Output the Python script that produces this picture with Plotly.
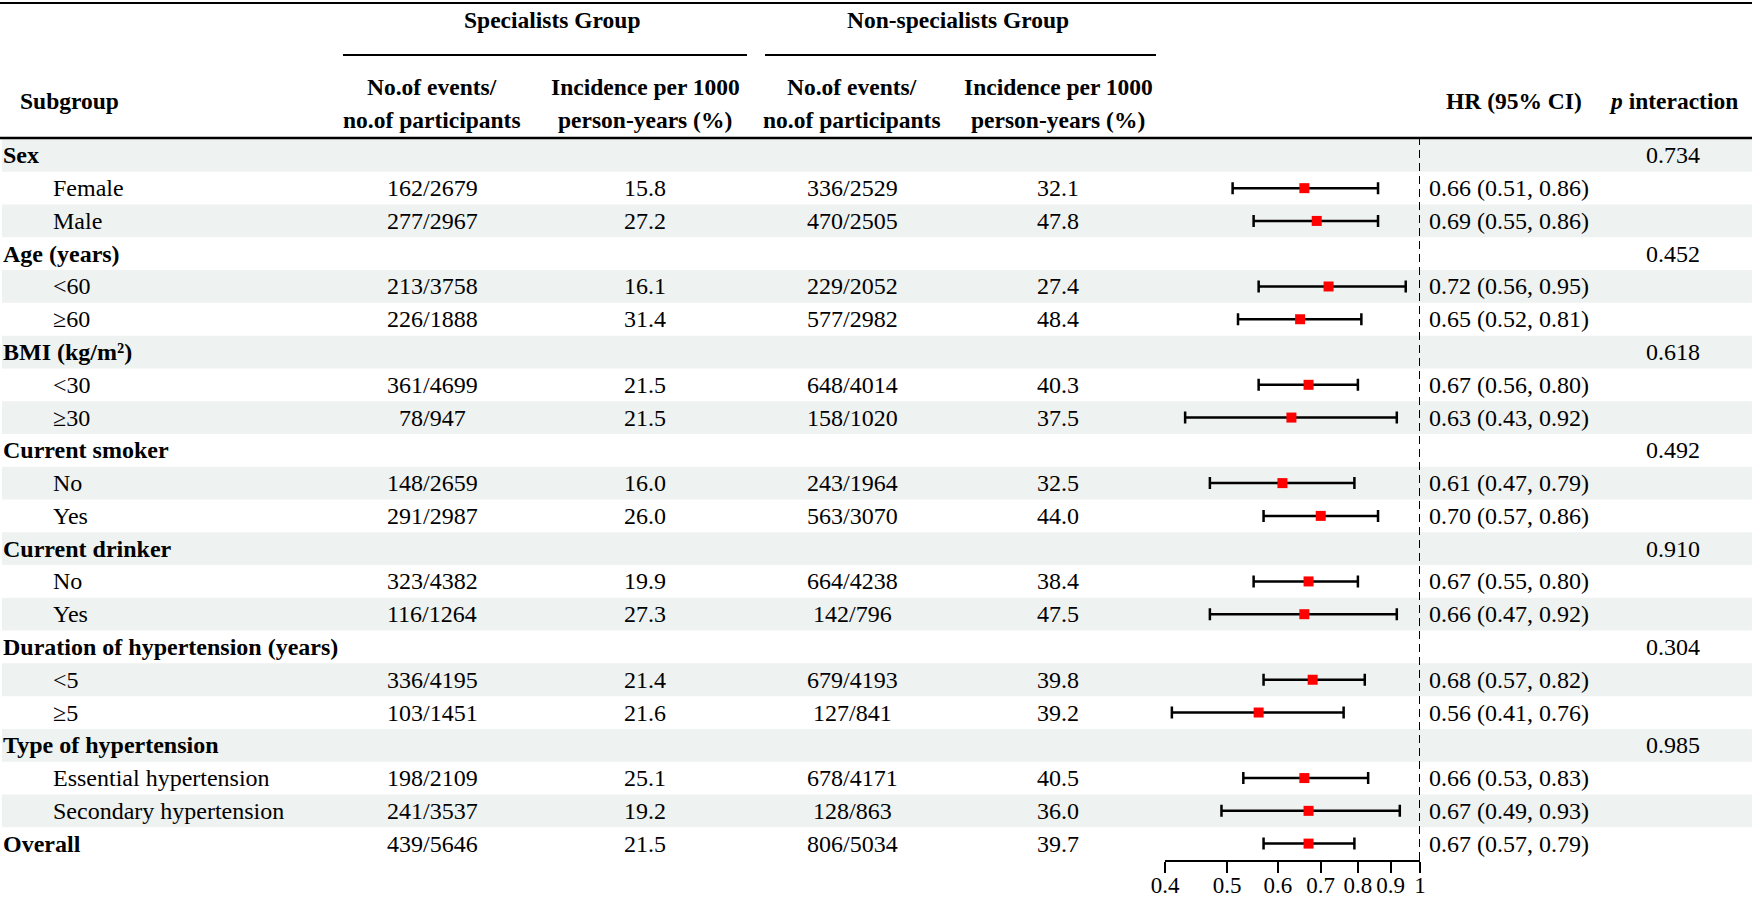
import math
import plotly.graph_objects as go

# ---------------- data ----------------
labels = ["Sex", "Female", "Male",
          "Age (years)", "<60", "≥60",
          "BMI (kg/m²)", "<30", "≥30",
          "Current smoker", "No", "Yes",
          "Current drinker", "No", "Yes",
          "Duration of hypertension (years)", "<5", "≥5",
          "Type of hypertension", "Essential hypertension", "Secondary hypertension",
          "Overall"]
is_group = [True, False, False, True, False, False, True, False, False,
            True, False, False, True, False, False, True, False, False,
            True, False, False, True]
spec_events = ["", "162/2679", "277/2967", "", "213/3758", "226/1888", "", "361/4699", "78/947",
               "", "148/2659", "291/2987", "", "323/4382", "116/1264", "", "336/4195", "103/1451",
               "", "198/2109", "241/3537", "439/5646"]
spec_inc = ["", "15.8", "27.2", "", "16.1", "31.4", "", "21.5", "21.5",
            "", "16.0", "26.0", "", "19.9", "27.3", "", "21.4", "21.6",
            "", "25.1", "19.2", "21.5"]
non_events = ["", "336/2529", "470/2505", "", "229/2052", "577/2982", "", "648/4014", "158/1020",
              "", "243/1964", "563/3070", "", "664/4238", "142/796", "", "679/4193", "127/841",
              "", "678/4171", "128/863", "806/5034"]
non_inc = ["", "32.1", "47.8", "", "27.4", "48.4", "", "40.3", "37.5",
           "", "32.5", "44.0", "", "38.4", "47.5", "", "39.8", "39.2",
           "", "40.5", "36.0", "39.7"]
hr = [None, 0.66, 0.69, None, 0.72, 0.65, None, 0.67, 0.63,
      None, 0.61, 0.70, None, 0.67, 0.66, None, 0.68, 0.56,
      None, 0.66, 0.67, 0.67]
hr_lo = [None, 0.51, 0.55, None, 0.56, 0.52, None, 0.56, 0.43,
         None, 0.47, 0.57, None, 0.55, 0.47, None, 0.57, 0.41,
         None, 0.53, 0.49, 0.57]
hr_hi = [None, 0.86, 0.86, None, 0.95, 0.81, None, 0.80, 0.92,
         None, 0.79, 0.86, None, 0.80, 0.92, None, 0.82, 0.76,
         None, 0.83, 0.93, 0.79]
p_inter = ["0.734", "", "", "0.452", "", "", "0.618", "", "",
           "0.492", "", "", "0.910", "", "", "0.304", "", "",
           "0.985", "", "", ""]
tick_vals = [0.4, 0.5, 0.6, 0.7, 0.8, 0.9, 1]
tick_text = ["0.4", "0.5", "0.6", "0.7", "0.8", "0.9", "1"]

# ---------------- layout helpers ----------------
W, H = 1755, 900
FONT = "Liberation Serif"
FS = 24      # body text
FSH = 23.5   # header text
TOP, BOT = 139, 860          # table body in pixels
n = len(labels)

def px(x):
    return x / W

def py(y):
    return 1 - y / H

fig = go.Figure()

rows = list(range(1, n + 1))
xs, ys, ep, em = [], [], [], []
for i, (h, lo, hi) in enumerate(zip(hr, hr_lo, hr_hi)):
    if h is None:
        continue
    xs.append(h)
    ys.append(rows[i])
    ep.append(hi - h)
    em.append(h - lo)

fig.add_trace(go.Scatter(
    x=xs, y=ys, mode="markers",
    marker=dict(symbol="square", size=10, color="#ff0000", line=dict(width=0)),
    error_x=dict(type="data", symmetric=False, array=ep, arrayminus=em,
                 color="black", thickness=2.5, width=6),
    hoverinfo="skip", showlegend=False))

shapes = []
for i in range(n):
    if i % 2 == 0:
        shapes.append(dict(type="rect", xref="paper", yref="y",
                           x0=px(2), x1=px(1752), y0=rows[i] - 0.5, y1=rows[i] + 0.5,
                           fillcolor="#eef2f0", line=dict(width=0), layer="below"))
shapes.append(dict(type="line", xref="paper", yref="paper", x0=0, x1=px(1752),
                   y0=py(3), y1=py(3), line=dict(color="black", width=2)))
shapes.append(dict(type="line", xref="paper", yref="paper", x0=0, x1=px(1752),
                   y0=py(TOP - 1), y1=py(TOP - 1), line=dict(color="black", width=2.5)))
shapes.append(dict(type="line", xref="paper", yref="paper", x0=px(343), x1=px(747),
                   y0=py(55), y1=py(55), line=dict(color="black", width=2)))
shapes.append(dict(type="line", xref="paper", yref="paper", x0=px(765), x1=px(1156),
                   y0=py(55), y1=py(55), line=dict(color="black", width=2)))
shapes.append(dict(type="line", xref="x", yref="paper", x0=1, x1=1,
                   y0=py(BOT), y1=py(TOP), line=dict(color="black", width=2, dash="8px,5px")))

ann = []

def t(x, y, text, xanchor="center", yref="paper", bold=False, size=FS):
    if bold:
        text = "<b>" + text + "</b>"
    ann.append(dict(x=x, y=y, xref="paper", yref=yref, text=text, showarrow=False,
                    xanchor=xanchor, yanchor="middle", borderpad=0,
                    font=dict(family=FONT, size=size, color="black")))

t(px(552), py(20), "Specialists Group", bold=True, size=FSH)
t(px(958), py(20), "Non-specialists Group", bold=True, size=FSH)
t(px(19), py(101), "Subgroup", xanchor="left", bold=True, size=FSH)
col1, col2, col3, col4 = 432, 645, 852, 1058
for c in (col1, col3):
    t(px(c), py(87), "No.of events/", bold=True, size=FSH)
    t(px(c), py(120), "no.of participants", bold=True, size=FSH)
for c in (col2, col4):
    t(px(c), py(87), "Incidence per 1000", bold=True, size=FSH)
    t(px(c), py(120), "person-years (%)", bold=True, size=FSH)
t(px(1514), py(101), "HR (95% CI)", bold=True, size=FSH)
t(px(1673), py(101), "<i>p</i> interaction", bold=True, size=FSH)

for i in range(n):
    r = rows[i]
    if is_group[i]:
        t(px(2), r, labels[i], xanchor="left", yref="y", bold=True)
    else:
        t(px(52), r, labels[i], xanchor="left", yref="y")
    if spec_events[i]:
        t(px(col1), r, spec_events[i], yref="y")
    if spec_inc[i]:
        t(px(col2), r, spec_inc[i], yref="y")
    if non_events[i]:
        t(px(col3), r, non_events[i], yref="y")
    if non_inc[i]:
        t(px(col4), r, non_inc[i], yref="y")
    if hr[i] is not None:
        t(px(1428), r, f"{hr[i]:.2f} ({hr_lo[i]:.2f}, {hr_hi[i]:.2f})", xanchor="left", yref="y")
    if p_inter[i]:
        t(px(1673), r, p_inter[i], yref="y")

fig.update_layout(
    width=W, height=H, margin=dict(l=0, r=0, t=0, b=0, pad=0, autoexpand=False),
    paper_bgcolor="white", plot_bgcolor="rgba(0,0,0,0)",
    shapes=shapes, annotations=ann, showlegend=False,
    xaxis=dict(type="log", domain=[px(1165), px(1420)],
               range=[math.log10(0.4), 0], tickvals=tick_vals, ticktext=tick_text,
               showgrid=False, zeroline=False, showline=True, linecolor="black", linewidth=2,
               ticks="outside", ticklen=11, tickwidth=2, tickcolor="black", automargin=False,
               ticklabelstandoff=-8,
               tickfont=dict(family=FONT, size=23, color="black"), anchor="y"),
    yaxis=dict(domain=[py(BOT), py(TOP)], range=[n + 0.5, 0.5], automargin=False,
               visible=False, showgrid=False, zeroline=False),
)

fig.write_html(
    "out.html", config={"displayModeBar": False},
    post_script=("document.documentElement.style.margin='0';"
                 "document.body.style.margin='0';document.body.style.padding='0';"
                 "document.body.style.overflow='hidden';"))
